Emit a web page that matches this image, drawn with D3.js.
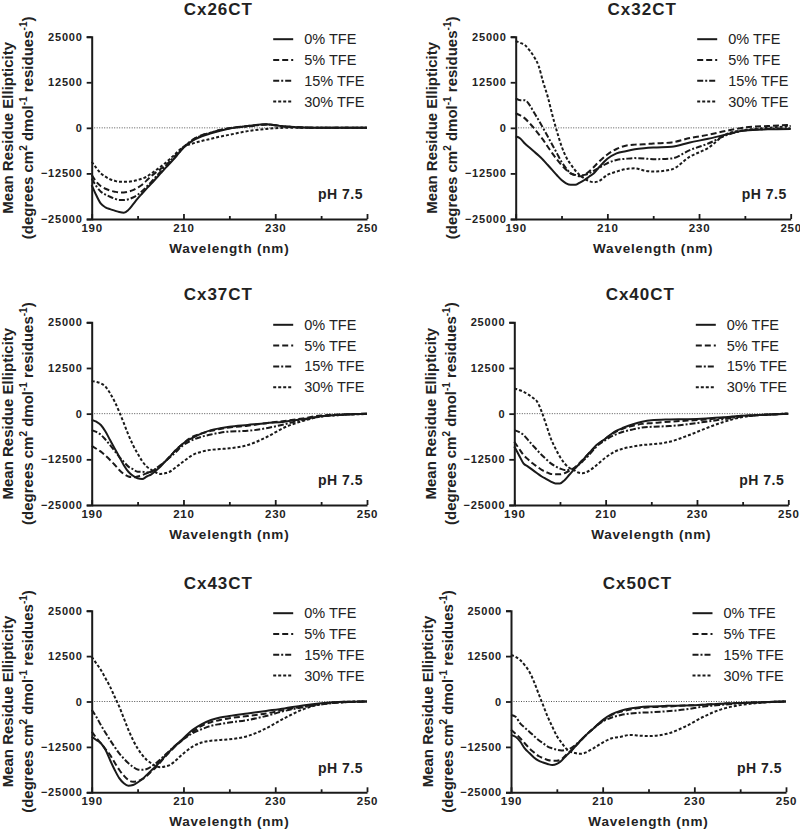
<!DOCTYPE html>
<html>
<head>
<meta charset="utf-8">
<script src="https://cdn.jsdelivr.net/npm/d3@7"></script>
<style>
  html, body { margin: 0; padding: 0; background: #fff; }
  svg { display: block; }
  text { font-family: "Liberation Sans", Arial, sans-serif; fill: #222; }
</style>
</head>
<body>
<svg id="chart" width="800" height="831"></svg>
<script>
// ---------------- DATA ----------------
const wavelengths = [190,191,192,193,194,195,196,197,198,199,200,201,202,203,204,205,206,207,208,210,212,214,216,218,220,224,228,232,236,240,245,250];
const yTicks = [25000, 12500, 0, -12500, -25000];
const xTickLabels = [190, 210, 230, 250];
const xMinorTicks = [200, 220, 240];
const seriesNames = ["0% TFE", "5% TFE", "15% TFE", "30% TFE"];
const panelTitles = ["Cx26CT", "Cx32CT", "Cx37CT", "Cx40CT", "Cx43CT", "Cx50CT"];
const conditionLabel = "pH 7.5";

const cx26_0  = [-15700,-18500,-20800,-21800,-22300,-22700,-23100,-23300,-22500,-21000,-19400,-18000,-16600,-15300,-13900,-12500,-11100,-9800,-8400,-5500,-3500,-2300,-1500,-800,-200,500,1000,400,100,0,0,0];
const cx26_5  = [-12900,-14800,-16000,-16700,-17200,-17500,-17700,-17700,-17500,-17100,-16400,-15600,-14400,-13200,-12200,-11300,-10400,-9400,-8300,-5400,-3300,-2000,-1300,-600,-100,500,900,400,100,0,0,0];
const cx26_15 = [-13900,-16000,-17500,-18300,-18900,-19400,-19800,-19800,-19600,-19100,-18400,-17300,-16100,-14800,-13400,-12000,-10600,-9200,-7900,-5300,-3300,-2100,-1300,-600,-100,400,900,400,100,0,0,0];
const cx26_30 = [-9300,-11000,-12500,-13400,-14100,-14500,-14800,-14800,-14800,-14600,-14300,-13900,-13400,-12500,-11600,-10700,-9700,-8600,-7400,-5200,-4300,-3600,-3000,-2400,-1900,-900,-300,0,0,0,0,0];

const cx32_0  = [-2400,-2900,-4300,-5400,-6500,-7600,-8800,-10200,-11600,-13000,-14300,-15200,-15600,-15600,-15000,-14300,-13400,-12500,-11100,-8500,-7000,-6400,-5900,-5600,-5400,-5200,-4000,-3000,-1800,-700,-400,-300];
const cx32_5  = [4000,3400,2600,1300,-100,-1700,-3300,-5200,-7000,-8700,-10200,-11500,-12500,-13000,-13300,-12900,-12000,-10800,-9500,-7300,-5800,-4900,-4600,-4500,-4300,-4000,-2800,-1900,-800,100,500,800];
const cx32_15 = [8100,7600,7600,6300,4200,2100,-100,-2400,-4700,-7000,-9300,-11100,-12500,-12900,-13100,-12900,-12500,-11800,-11100,-9700,-8800,-8500,-8300,-8400,-8600,-8400,-6100,-4300,-2000,-700,-300,-100];
const cx32_30 = [23800,23300,22700,21300,19500,17000,12500,8500,3500,-1000,-5000,-8000,-10000,-11700,-13000,-13900,-14600,-14900,-14700,-12900,-12000,-11300,-11100,-11700,-12000,-11400,-7900,-5500,-1700,-600,0,500];

const cx37_0  = [-1700,-2200,-3100,-4900,-7200,-9500,-11800,-14100,-15900,-17000,-17700,-17900,-17200,-16600,-15600,-14500,-13100,-11800,-10400,-8100,-6600,-5400,-4500,-4000,-3600,-3100,-2600,-2200,-1500,-700,-200,0];
const cx37_5  = [-8800,-9600,-10400,-11500,-12700,-14000,-15400,-16500,-17200,-17400,-17200,-16800,-16300,-15900,-15200,-14200,-13100,-11800,-10400,-8100,-6300,-5400,-4700,-4200,-3800,-3300,-2600,-2000,-1300,-500,-200,0];
const cx37_15 = [-4500,-5000,-5800,-7100,-8600,-10200,-11800,-13200,-14500,-15200,-15900,-15900,-16100,-15900,-15000,-14100,-13100,-12000,-10900,-8600,-7200,-6300,-5700,-5200,-4900,-4700,-4000,-2900,-1700,-800,-300,0];
const cx37_30 = [8900,8700,8300,7400,5600,3300,500,-2600,-5800,-8600,-10900,-13000,-14500,-15400,-16100,-16500,-16300,-15900,-15000,-13100,-11300,-10400,-9900,-9700,-9500,-8600,-6500,-3800,-2000,-800,-300,-100];

const cx40_0  = [-9000,-11300,-13600,-14500,-15400,-16300,-17200,-17900,-18600,-19100,-19100,-18200,-16800,-15400,-14100,-12700,-11300,-9900,-8600,-6800,-4900,-3800,-2900,-2200,-1800,-1600,-1500,-1300,-1000,-600,-300,0];
const cx40_5  = [-7700,-9500,-11300,-12500,-13600,-14500,-15400,-16000,-16500,-16600,-16600,-16300,-15700,-15000,-13900,-12600,-11300,-10000,-8800,-6800,-5100,-4000,-3300,-2800,-2600,-2200,-1900,-1600,-1100,-600,-300,0];
const cx40_15 = [-4500,-5000,-5800,-7200,-8600,-10000,-11300,-12500,-13600,-14400,-15000,-15400,-15400,-15000,-14100,-13000,-11800,-10400,-9000,-7200,-5800,-4900,-4300,-3800,-3600,-3400,-2900,-2200,-1500,-800,-300,0];
const cx40_30 = [6900,6500,6000,5300,4400,3300,500,-3100,-6800,-9500,-11800,-13600,-14800,-15400,-16100,-16300,-15900,-15100,-14100,-12000,-10400,-9500,-9000,-8600,-8400,-7700,-6000,-4000,-2200,-900,-300,0];

const cx43_0  = [-9700,-10600,-11500,-13300,-16100,-18800,-21100,-22500,-23200,-23000,-22300,-21400,-20200,-19000,-17800,-16400,-15000,-13700,-12400,-10100,-7800,-6200,-5100,-4400,-4000,-3300,-2600,-1900,-1100,-500,-100,0];
const cx43_5  = [-8300,-10000,-11500,-13100,-14700,-16800,-18800,-20400,-21600,-22100,-21900,-21400,-20500,-19300,-18100,-16700,-15200,-13900,-12600,-10400,-8300,-6700,-5700,-5100,-4600,-4000,-3300,-2300,-1400,-700,-200,0];
const cx43_15 = [-2300,-4200,-6500,-8600,-10600,-12500,-14300,-15700,-17000,-18000,-18700,-18800,-18600,-17900,-17000,-15900,-14700,-13500,-12400,-10400,-8700,-7600,-6700,-6200,-5800,-5100,-4000,-2600,-1600,-800,-200,0];
const cx43_30 = [12300,10500,8700,6400,4100,1300,-1400,-4600,-7800,-10600,-12900,-14700,-16100,-17000,-17800,-18100,-17900,-17500,-16600,-14300,-12400,-11300,-10800,-10600,-10400,-9500,-7400,-4600,-2200,-700,-100,0];

const cx50_0  = [-9200,-9700,-11000,-12900,-14200,-15400,-16300,-16800,-17200,-17500,-17200,-16300,-15000,-13800,-12400,-11000,-9700,-8500,-7400,-5100,-3500,-2500,-1900,-1600,-1400,-1200,-1100,-900,-600,-400,-200,0];
const cx50_5  = [-7800,-8900,-10100,-11500,-12900,-14000,-15000,-15600,-16100,-16300,-16300,-15900,-14700,-13600,-12400,-11000,-9700,-8500,-7400,-5300,-3700,-2800,-2200,-1800,-1600,-1400,-1100,-900,-600,-400,-200,0];
const cx50_15 = [-3700,-4200,-6000,-7200,-8300,-9500,-10600,-11500,-12400,-12900,-13300,-13500,-13300,-12900,-12000,-10900,-9700,-8500,-7400,-5500,-4400,-3700,-3300,-3100,-3000,-2700,-2200,-1400,-900,-500,-200,0];
const cx50_30 = [12800,12300,11400,10000,8200,5500,2200,-1000,-4200,-6900,-9500,-11300,-12900,-13800,-14200,-14400,-14200,-13600,-12900,-11300,-10100,-9700,-9200,-9400,-9500,-8900,-6900,-4200,-2100,-1000,-300,0];

const panelSeries = [
  [cx26_0, cx26_5, cx26_15, cx26_30],
  [cx32_0, cx32_5, cx32_15, cx32_30],
  [cx37_0, cx37_5, cx37_15, cx37_30],
  [cx40_0, cx40_5, cx40_15, cx40_30],
  [cx43_0, cx43_5, cx43_15, cx43_30],
  [cx50_0, cx50_5, cx50_15, cx50_30]
];

// ---------------- LAYOUT / STYLE ----------------
const panelBoxes = [
  {x0: 91.7,  x1: 367,   top: 36.7,  bot: 219},
  {x0: 515.7, x1: 790.7, top: 36.7,  bot: 219},
  {x0: 91.7,  x1: 367,   top: 322.3, bot: 505},
  {x0: 514.3, x1: 788.3, top: 322.3, bot: 505},
  {x0: 91.7,  x1: 367,   top: 610.7, bot: 792.3},
  {x0: 511,   x1: 786,   top: 610.7, bot: 792.3}
];
const dashes = [null, "6,3", "6,2,2,2", "3,2"];
const ink = "#1a1a1a";

const svg = d3.select("#chart");

panelBoxes.forEach((b, pi) => {
  const g = svg.append("g");
  const x = d3.scaleLinear().domain([190, 250]).range([b.x0, b.x1]);
  const y = d3.scaleLinear().domain([-25000, 25000]).range([b.bot, b.top]);
  const midX = (b.x0 + b.x1) / 2;
  const midY = (b.top + b.bot) / 2;

  // Title
  g.append("text").attr("x", midX - 11).attr("y", b.top - 22)
    .attr("text-anchor", "middle").attr("font-size", 17).attr("font-weight", "bold")
    .attr("letter-spacing", 1)
    .text(panelTitles[pi]);

  // zero reference line
  g.append("line").attr("x1", x(190)).attr("x2", x(250)).attr("y1", y(0)).attr("y2", y(0))
    .attr("stroke", "#555").attr("stroke-width", 1).attr("stroke-dasharray", "1,1.5");

  // data lines
  const line = d3.line().x((d, i) => x(wavelengths[i])).y(d => y(d)).curve(d3.curveMonotoneX);
  panelSeries[pi].forEach((vals, si) => {
    const p = g.append("path").datum(vals).attr("d", line)
      .attr("fill", "none").attr("stroke", ink).attr("stroke-width", 2)
      .attr("stroke-linejoin", "round");
    if (dashes[si]) p.attr("stroke-dasharray", dashes[si]);
  });

  // Y axis
  const yAxis = g.append("g").attr("transform", `translate(${b.x0},0)`)
    .call(d3.axisLeft(y).tickValues(yTicks).tickSize(5).tickPadding(4).tickFormat(d3.format("d")));
  yAxis.select(".domain").attr("stroke", ink).attr("stroke-width", 2);
  yAxis.selectAll(".tick line").attr("stroke", ink).attr("stroke-width", 1.8);
  yAxis.selectAll(".tick text").attr("font-size", 11).attr("font-weight", "bold")
    .attr("letter-spacing", 0.8).attr("fill", ink)
    .style("font-family", '"Liberation Sans", Arial, sans-serif');

  // X axis (major ticks with labels, inward)
  const xAxis = g.append("g").attr("transform", `translate(0,${b.bot})`)
    .call(d3.axisBottom(x).tickValues(xTickLabels).tickSizeInner(-5).tickSizeOuter(0).tickPadding(5).tickFormat(d3.format("d")));
  xAxis.select(".domain").attr("stroke", ink).attr("stroke-width", 2);
  xAxis.selectAll(".tick line").attr("stroke", ink).attr("stroke-width", 1.8);
  xAxis.selectAll(".tick text").attr("font-size", 11.5).attr("font-weight", "bold")
    .attr("letter-spacing", 0.8).attr("fill", ink)
    .style("font-family", '"Liberation Sans", Arial, sans-serif');
  // minor ticks
  const xMinor = g.append("g").attr("transform", `translate(0,${b.bot})`)
    .call(d3.axisBottom(x).tickValues(xMinorTicks).tickSizeInner(-3).tickSizeOuter(0).tickFormat(""));
  xMinor.select(".domain").remove();
  xMinor.selectAll(".tick line").attr("stroke", ink).attr("stroke-width", 1.8);

  // X axis title
  g.append("text").attr("x", midX).attr("y", b.bot + 33.5)
    .attr("text-anchor", "middle").attr("font-size", 13.5).attr("font-weight", "bold")
    .attr("letter-spacing", 0.8)
    .text("Wavelength (nm)");

  // Y axis title (two lines)
  g.append("text").attr("transform", `translate(${b.x0 - 78.5},${midY}) rotate(-90)`)
    .attr("text-anchor", "middle").attr("font-size", 15).attr("font-weight", "bold")
    .text("Mean Residue Ellipticity");
  const yl2 = g.append("text").attr("transform", `translate(${b.x0 - 58.5},${midY}) rotate(-90)`)
    .attr("text-anchor", "middle").attr("font-size", 15).attr("font-weight", "bold");
  yl2.append("tspan").text("(degrees cm");
  yl2.append("tspan").attr("font-size", 10).attr("dy", -6).text("2");
  yl2.append("tspan").attr("dy", 6).text(" dmol");
  yl2.append("tspan").attr("font-size", 10).attr("dy", -6).text("-1");
  yl2.append("tspan").attr("dy", 6).text(" residues");
  yl2.append("tspan").attr("font-size", 10).attr("dy", -6).text("-1");
  yl2.append("tspan").attr("dy", 6).text(")");

  // Legend
  const lg = g.append("g");
  seriesNames.forEach((name, si) => {
    const cy = b.top + 2.5 + si * 20.8;
    const l = lg.append("line").attr("x1", b.x0 + 181.5).attr("x2", b.x0 + 201.5)
      .attr("y1", cy).attr("y2", cy).attr("stroke", ink).attr("stroke-width", 2);
    if (dashes[si]) l.attr("stroke-dasharray", dashes[si]);
    lg.append("text").attr("x", b.x0 + 212.5).attr("y", cy + 5)
      .attr("font-size", 14.5).attr("fill", "#333").text(name);
  });

  // condition label
  g.append("text").attr("x", b.x1 - 4).attr("y", b.top + 162.6)
    .attr("text-anchor", "end").attr("font-size", 14).attr("font-weight", "bold")
    .attr("letter-spacing", 0.5)
    .text(conditionLabel);
});
</script>
</body>
</html>
